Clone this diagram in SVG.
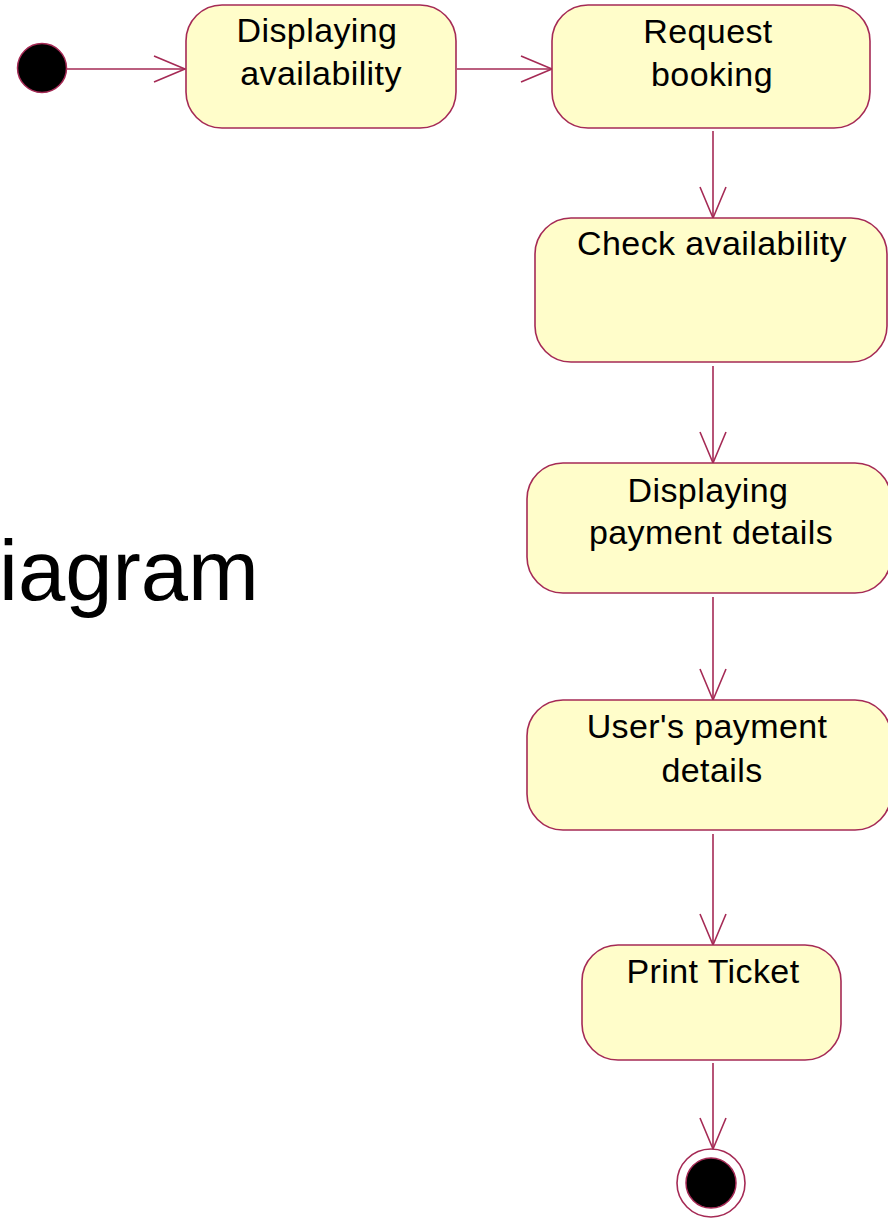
<svg xmlns="http://www.w3.org/2000/svg" width="888" height="1218" viewBox="0 0 888 1218">
  <style>
    .state { fill: #fffdca; stroke: #a52a55; stroke-width: 1.6; }
    .label { font-family: "Liberation Sans", Arial, sans-serif; font-size: 34px; letter-spacing: 0.4px; fill: #000; text-anchor: middle; }
    .flow { fill: none; stroke: #a52a55; stroke-width: 1.6; marker-end: url(#open); }
    .dot { fill: #000; stroke: #a52a55; stroke-width: 1.5; }
  </style>
  <defs>
    <marker id="open" markerUnits="userSpaceOnUse" markerWidth="34" markerHeight="30" refX="31" refY="13" orient="auto" overflow="visible">
      <path d="M0,0 L31,13 L0,26" fill="none" stroke="#a52a55" stroke-width="1.6"/>
    </marker>
  </defs>
  <rect width="888" height="1218" fill="#ffffff"/>

  <!-- title fragment -->
  <text x="-1" y="600" font-family="Liberation Sans, Arial, sans-serif" font-size="85" fill="#000">iagram</text>

  <g id="connectors">
    <line class="flow" x1="67" y1="69" x2="185" y2="69"/>
    <line class="flow" x1="457" y1="69" x2="552" y2="69"/>
    <line class="flow" x1="713" y1="131" x2="713" y2="218"/>
    <line class="flow" x1="713" y1="366" x2="713" y2="463"/>
    <line class="flow" x1="713" y1="597" x2="713" y2="700"/>
    <line class="flow" x1="713" y1="834" x2="713" y2="945"/>
    <line class="flow" x1="713" y1="1063" x2="713" y2="1149"/>
  </g>

  <g id="start">
    <circle class="dot" cx="42" cy="68" r="24.5"/>
  </g>

  <g id="displaying-availability">
    <rect class="state" x="186" y="5" width="270" height="123" rx="36" ry="36"/>
    <text class="label" x="317" y="42">Displaying</text>
    <text class="label" x="321" y="85">availability</text>
  </g>

  <g id="request-booking">
    <rect class="state" x="552" y="5" width="318" height="123" rx="36" ry="36"/>
    <text class="label" x="708" y="43">Request</text>
    <text class="label" x="712" y="86">booking</text>
  </g>

  <g id="check-availability">
    <rect class="state" x="535" y="218" width="352" height="144" rx="36" ry="36"/>
    <text class="label" x="712" y="255">Check availability</text>
  </g>

  <g id="displaying-payment-details">
    <rect class="state" x="527" y="463" width="364" height="130" rx="36" ry="36"/>
    <text class="label" x="708" y="502">Displaying</text>
    <text class="label" x="711" y="544">payment details</text>
  </g>

  <g id="users-payment-details">
    <rect class="state" x="527" y="700" width="364" height="130" rx="36" ry="36"/>
    <text class="label" x="707" y="738">User's payment</text>
    <text class="label" x="712" y="782">details</text>
  </g>

  <g id="print-ticket">
    <rect class="state" x="582" y="945" width="259" height="115" rx="36" ry="36"/>
    <text class="label" x="713" y="983">Print Ticket</text>
  </g>

  <g id="end">
    <circle cx="711" cy="1183" r="34" fill="#ffffff" stroke="#a52a55" stroke-width="1.6"/>
    <circle class="dot" cx="711" cy="1183" r="25"/>
  </g>
</svg>
